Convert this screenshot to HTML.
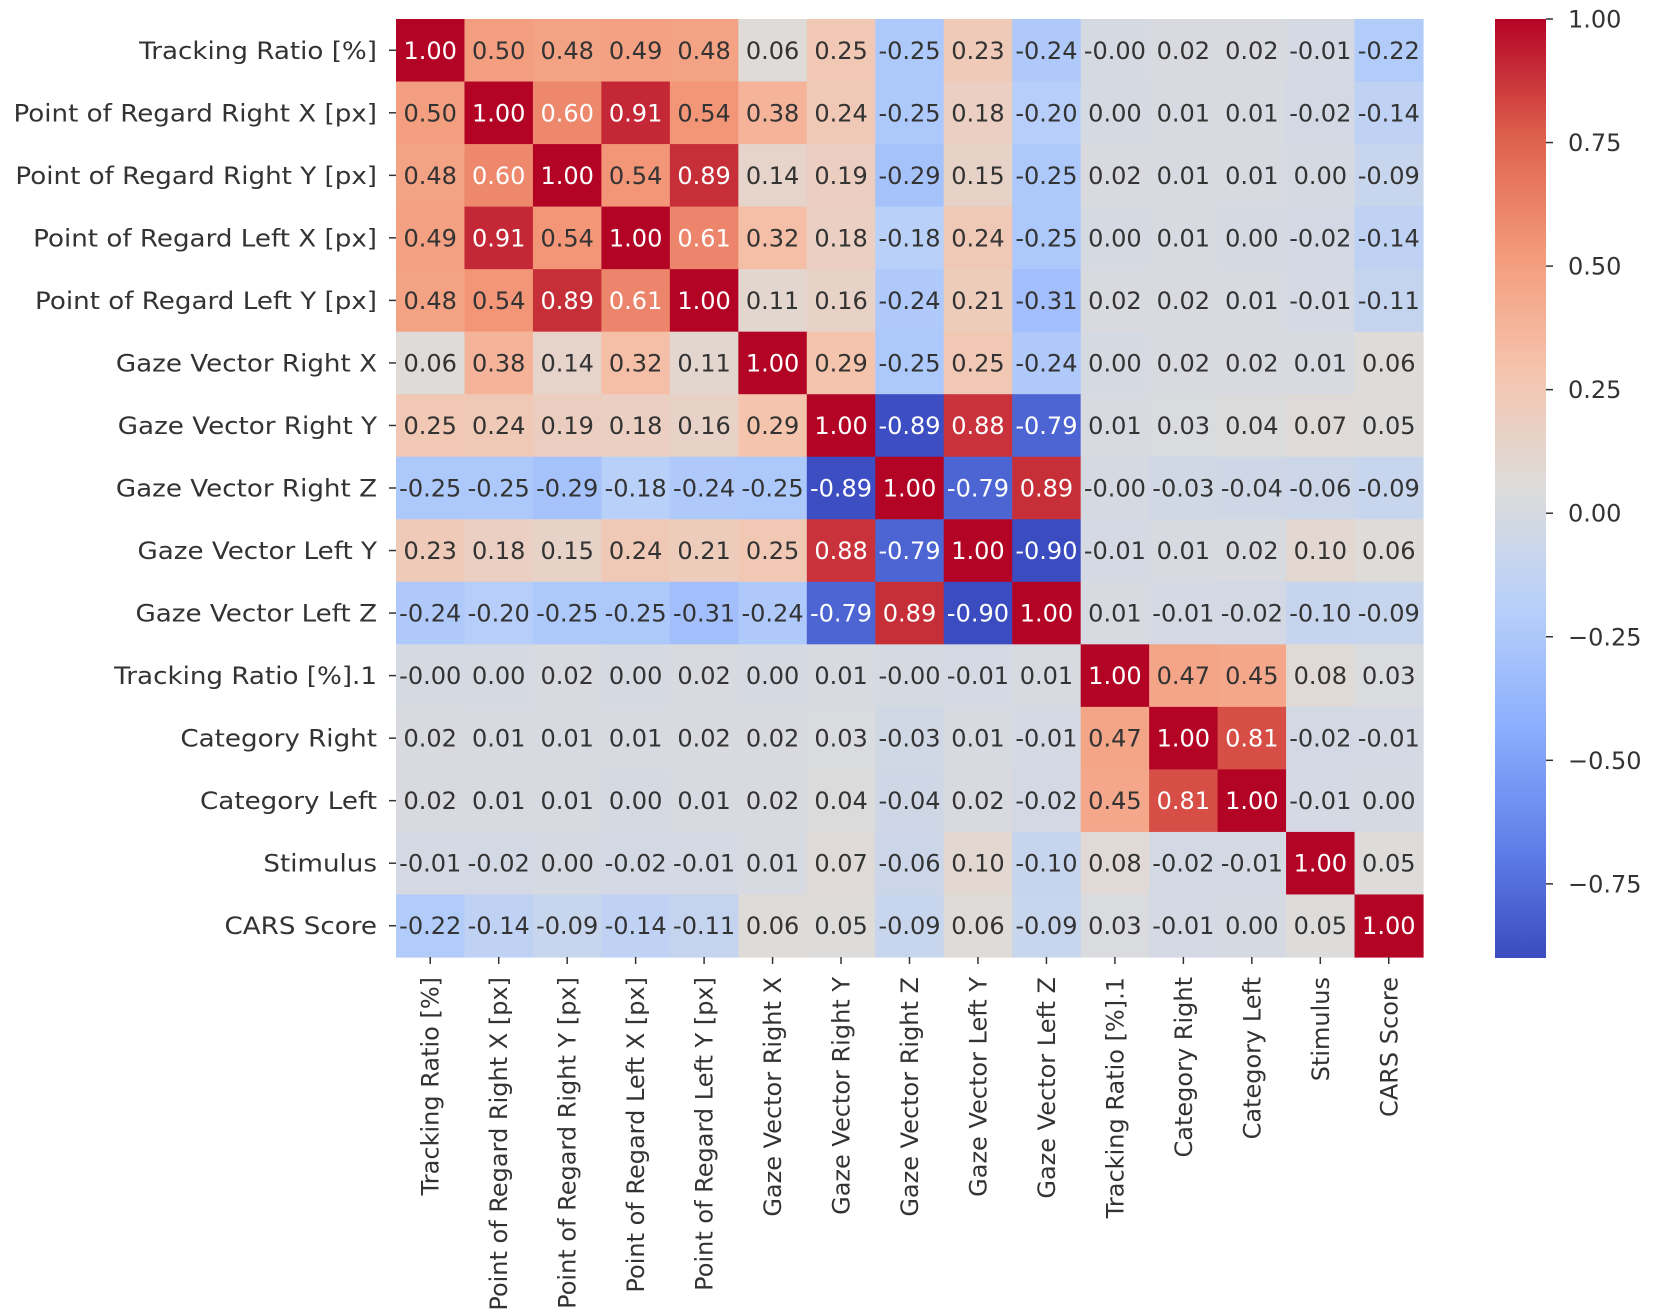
<!DOCTYPE html>
<html><head><meta charset="utf-8"><style>
html,body{margin:0;padding:0;background:#fff;}
svg{display:block;font-family:"DejaVu Sans","Liberation Sans",sans-serif;}
</style></head><body>
<svg id="chart" width="1654" height="1316" viewBox="0 0 1654 1316" xmlns="http://www.w3.org/2000/svg">
<defs>
<linearGradient id="cbgrad" x1="0" y1="1" x2="0" y2="0">
<stop offset="0" stop-color="rgb(58,76,192)"/><stop offset="0.125" stop-color="rgb(98,130,234)"/><stop offset="0.25" stop-color="rgb(141,176,254)"/><stop offset="0.375" stop-color="rgb(184,208,249)"/><stop offset="0.5" stop-color="rgb(221,220,219)"/><stop offset="0.625" stop-color="rgb(245,196,173)"/><stop offset="0.75" stop-color="rgb(244,154,123)"/><stop offset="0.875" stop-color="rgb(222,96,77)"/><stop offset="1" stop-color="rgb(180,4,38)"/>
</linearGradient>
</defs>
<g id="cells"></g>
<g id="ylabels"></g>
<g id="xlabels"></g>
<rect x="1495" y="19" width="51" height="939" fill="url(#cbgrad)"/>
<g id="cbticks"></g>
</svg>
<script>
const labels = ["Tracking Ratio [%]","Point of Regard Right X [px]","Point of Regard Right Y [px]","Point of Regard Left X [px]","Point of Regard Left Y [px]","Gaze Vector Right X","Gaze Vector Right Y","Gaze Vector Right Z","Gaze Vector Left Y","Gaze Vector Left Z","Tracking Ratio [%].1","Category Right","Category Left","Stimulus","CARS Score"];
const row0 = [1.00,0.50,0.48,0.49,0.48,0.06,0.25,-0.25,0.23,-0.24,-0.001,0.02,0.02,-0.01,-0.22];
const row1 = [0.50,1.00,0.60,0.91,0.54,0.38,0.24,-0.25,0.18,-0.20,0.00,0.01,0.01,-0.02,-0.14];
const row2 = [0.48,0.60,1.00,0.54,0.89,0.14,0.19,-0.29,0.15,-0.25,0.02,0.01,0.01,0.00,-0.09];
const row3 = [0.49,0.91,0.54,1.00,0.61,0.32,0.18,-0.18,0.24,-0.25,0.00,0.01,0.00,-0.02,-0.14];
const row4 = [0.48,0.54,0.89,0.61,1.00,0.11,0.16,-0.24,0.21,-0.31,0.02,0.02,0.01,-0.01,-0.11];
const row5 = [0.06,0.38,0.14,0.32,0.11,1.00,0.29,-0.25,0.25,-0.24,0.00,0.02,0.02,0.01,0.06];
const row6 = [0.25,0.24,0.19,0.18,0.16,0.29,1.00,-0.89,0.88,-0.79,0.01,0.03,0.04,0.07,0.05];
const row7 = [-0.25,-0.25,-0.29,-0.18,-0.24,-0.25,-0.89,1.00,-0.79,0.89,-0.001,-0.03,-0.04,-0.06,-0.09];
const row8 = [0.23,0.18,0.15,0.24,0.21,0.25,0.88,-0.79,1.00,-0.90,-0.01,0.01,0.02,0.10,0.06];
const row9 = [-0.24,-0.20,-0.25,-0.25,-0.31,-0.24,-0.79,0.89,-0.90,1.00,0.01,-0.01,-0.02,-0.10,-0.09];
const row10 = [-0.001,0.00,0.02,0.00,0.02,0.00,0.01,-0.001,-0.01,0.01,1.00,0.47,0.45,0.08,0.03];
const row11 = [0.02,0.01,0.01,0.01,0.02,0.02,0.03,-0.03,0.01,-0.01,0.47,1.00,0.81,-0.02,-0.01];
const row12 = [0.02,0.01,0.01,0.00,0.01,0.02,0.04,-0.04,0.02,-0.02,0.45,0.81,1.00,-0.01,0.00];
const row13 = [-0.01,-0.02,0.00,-0.02,-0.01,0.01,0.07,-0.06,0.10,-0.10,0.08,-0.02,-0.01,1.00,0.05];
const row14 = [-0.22,-0.14,-0.09,-0.14,-0.11,0.06,0.05,-0.09,0.06,-0.09,0.03,-0.01,0.00,0.05,1.00];
const matrix = [row0,row1,row2,row3,row4,row5,row6,row7,row8,row9,row10,row11,row12,row13,row14];
const cbTicks = [1.00,0.75,0.50,0.25,0.00,-0.25,-0.50,-0.75];
const vmin = -0.90, vmax = 1.00;

const NS = "http://www.w3.org/2000/svg";
const L = 396, R = 1423, T = 19, B = 957;
const n = labels.length;
const cw = (R - L) / n, ch = (B - T) / n;
const xPos = i => L + i * cw;
const yPos = i => T + i * ch;
const cbTop = 19, cbBot = 958;
const cbY = v => cbBot - (v - vmin) / (vmax - vmin) * (cbBot - cbTop);

const stops = [[0,58,76,192],[0.125,98,130,234],[0.25,141,176,254],[0.375,184,208,249],[0.5,221,220,219],[0.625,245,196,173],[0.75,244,154,123],[0.875,222,96,77],[1,180,4,38]];
function cmap(v){
  let t = Math.max(0, Math.min(1, (v - vmin) / (vmax - vmin)));
  for (let k = 0; k < stops.length - 1; k++) {
    const a = stops[k], b = stops[k+1];
    if (t <= b[0]) {
      const f = (t - a[0]) / (b[0] - a[0]);
      return [0,1,2].map(j => Math.round(a[j+1] + f * (b[j+1] - a[j+1])));
    }
  }
  return [180,4,38];
}
function mk(tag, attrs, parent){
  const e = document.createElementNS(NS, tag);
  for (const k in attrs) e.setAttribute(k, attrs[k]);
  parent.appendChild(e);
  return e;
}
const cells = document.getElementById('cells');
matrix.forEach((row, i) => {
  row.forEach((v, j) => {
    const c = cmap(v);
    const r = mk('rect', {x: xPos(j), y: yPos(i), width: cw + 0.6, height: ch + 0.6, fill: `rgb(${c[0]},${c[1]},${c[2]})`}, cells);
    
    
    const lum = 0.2126*c[0] + 0.7152*c[1] + 0.0722*c[2];
    const t = mk('text', {x: xPos(j) + cw/2, y: yPos(i) + ch/2 + 8.5, 'text-anchor': 'middle', 'font-size': '24', fill: lum < 162 ? '#fff' : '#333'}, cells);
    t.textContent = v.toFixed(2);
    
    
  });
});
const yl = document.getElementById('ylabels');
labels.forEach((lab, i) => {
  const cy = yPos(i) + ch/2;
  const tk = mk('line', {x1: 389, x2: 396, y1: cy, y2: cy, stroke: '#333', 'stroke-width': 1.5}, yl);
  
  
  const t = mk('text', {x: 0, y: 0, 'text-anchor': 'end', 'font-size': '24', fill: '#333', transform: `translate(377,${cy + 8.5}) scale(1.09,1)`}, yl);
  t.textContent = lab;
  
  
});
const xl = document.getElementById('xlabels');
labels.forEach((lab, j) => {
  const cx = xPos(j) + cw/2;
  const tk = mk('line', {x1: cx, x2: cx, y1: 957, y2: 964, stroke: '#333', 'stroke-width': 1.5}, xl);
  
  
  const t = mk('text', {x: 0, y: 0, 'text-anchor': 'end', 'font-size': '24', fill: '#333', transform: `translate(${cx + 8.5},${977}) rotate(-90)`}, xl);
  t.textContent = lab;
  
  
});
const cb = document.getElementById('cbticks');
cbTicks.forEach(v => {
  const y = cbY(v);
  const tk = mk('line', {x1: 1546, x2: 1553, y1: y, y2: y, stroke: '#333', 'stroke-width': 1.5}, cb);
  
  
  const t = mk('text', {x: 1568, y: y + 8.5, 'font-size': '24', fill: '#333'}, cb);
  t.textContent = v.toFixed(2).replace('-', '\u2212');
  
  
});
</script>
</body></html>
